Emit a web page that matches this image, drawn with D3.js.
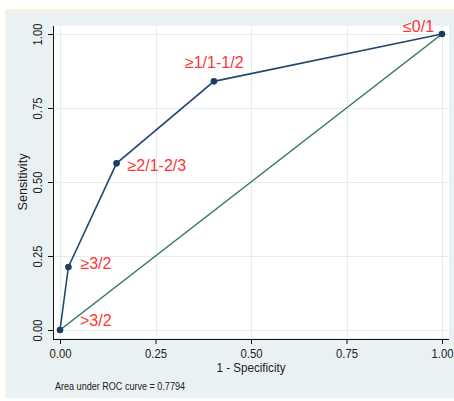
<!DOCTYPE html>
<html>
<head>
<meta charset="utf-8">
<script src="https://cdn.jsdelivr.net/npm/d3@7"></script>
<style>
  html, body { margin: 0; padding: 0; background: #ffffff; }
  svg { display: block; }
</style>
</head>
<body>
<svg id="chart" width="454" height="401"></svg>
<script>
// ROC curve points (1 - specificity, sensitivity) and their cut-point labels
const fpr = [0, 0.022, 0.148, 0.403, 1];
const tpr = [0, 0.213, 0.563, 0.840, 1];
const cutLabels = [">3/2", "\u22653/2", "\u22652/1-2/3", "\u22651/1-1/2", "\u22640/1"];
const tickValues = [0, 0.25, 0.5, 0.75, 1];
const tickLabels = ["0.00", "0.25", "0.50", "0.75", "1.00"];
const aucValue = 0.7794;

const svg = d3.select("#chart");
const W = 454, H = 401;
const font = '"Liberation Sans Narrow", "Liberation Sans", Arial, sans-serif';

// graph region
svg.append("rect").attr("x", 6).attr("y", 10).attr("width", W - 6).attr("height", 388)
  .attr("fill", "#eaf1f3");
svg.append("line").attr("x1", 6).attr("x2", 6).attr("y1", 10).attr("y2", 398)
  .attr("stroke", "#fbf3d9").attr("stroke-width", 2);
svg.append("line").attr("x1", 6).attr("x2", W).attr("y1", 10).attr("y2", 10)
  .attr("stroke", "#fbf3d9").attr("stroke-width", 2);

const x = d3.scaleLinear().domain([0, 1]).range([60, 442]);
const y = d3.scaleLinear().domain([0, 1]).range([330, 34]);

const plot = { left: 54, right: 449, top: 26, bottom: 338 };

// plot region
svg.append("rect").attr("x", plot.left).attr("y", plot.top)
  .attr("width", plot.right - plot.left).attr("height", plot.bottom - plot.top)
  .attr("fill", "#ffffff");

// grid
const grid = svg.append("g").attr("stroke", "#e3ecef").attr("stroke-width", 1);
tickValues.forEach(v => {
  grid.append("line").attr("x1", plot.left).attr("x2", plot.right)
    .attr("y1", Math.round(y(v)) + 0.5).attr("y2", Math.round(y(v)) + 0.5);
  grid.append("line").attr("y1", plot.top).attr("y2", plot.bottom)
    .attr("x1", Math.round(x(v)) + 0.5).attr("x2", Math.round(x(v)) + 0.5);
});

// axes
const xAxis = d3.axisBottom(x).tickValues(tickValues)
  .tickFormat((d, i) => tickLabels[i]).tickSize(5).tickSizeOuter(0);
const yAxis = d3.axisLeft(y).tickValues(tickValues)
  .tickFormat((d, i) => tickLabels[i]).tickSize(5).tickSizeOuter(0);

const gx = svg.append("g").attr("transform", "translate(0,339)").call(xAxis);
gx.select(".domain").remove();
gx.append("line").attr("x1", 53).attr("x2", plot.right).attr("y1", 0.5).attr("y2", 0.5)
  .attr("stroke", "#111");
gx.selectAll(".tick line").attr("stroke", "#111");
gx.selectAll(".tick text").attr("font-size", 13)
  .attr("y", 10).attr("dy", "0.71em").attr("fill", "#222");

const gy = svg.append("g").attr("transform", "translate(53,0)").call(yAxis);
gy.select(".domain").remove();
gy.append("line").attr("x1", 0.5).attr("x2", 0.5).attr("y1", plot.top).attr("y2", 339)
  .attr("stroke", "#111");
gy.selectAll(".tick line").attr("stroke", "#111");
gy.selectAll(".tick text").attr("font-size", 13)
  .attr("x", null).attr("dy", null)
  .attr("text-anchor", "middle")
  .attr("transform", "translate(-11,0) rotate(-90)")
  .attr("fill", "#222");

// condensed tick labels
svg.selectAll(".tick text").attr("font-family", font)
  .attr("textLength", 22).attr("lengthAdjust", "spacingAndGlyphs");

// axis titles
svg.append("text").attr("x", x(0.5)).attr("y", 372).attr("text-anchor", "middle")
  .attr("font-family", font).attr("font-size", 13).attr("fill", "#222")
  .attr("textLength", 69).attr("lengthAdjust", "spacingAndGlyphs")
  .text("1 - Specificity");
svg.append("text").attr("transform", `translate(27,${y(0.5)}) rotate(-90)`)
  .attr("text-anchor", "middle").attr("font-family", font).attr("font-size", 13)
  .attr("fill", "#222").attr("textLength", 57).attr("lengthAdjust", "spacingAndGlyphs")
  .text("Sensitivity");

// reference diagonal
svg.append("line").attr("x1", x(0)).attr("y1", y(0)).attr("x2", x(1)).attr("y2", y(1))
  .attr("stroke", "#357463").attr("stroke-width", 1.5);

// ROC curve
const pts = fpr.map((f, i) => [f, tpr[i]]);
svg.append("path").datum(pts)
  .attr("d", d3.line().x(d => x(d[0])).y(d => y(d[1])))
  .attr("fill", "none").attr("stroke", "#24496f").attr("stroke-width", 1.6);
svg.selectAll("circle.pt").data(pts).enter().append("circle")
  .attr("class", "pt").attr("cx", d => x(d[0])).attr("cy", d => y(d[1]))
  .attr("r", 3.3).attr("fill", "#1c3d62");

// cut-point labels, offset from their points
const labelDx = [20, 12, 11, -29, -39];
const labelDy = [-4, 2, 8, -13, -2];
svg.selectAll("text.cut").data(pts).enter().append("text")
  .attr("class", "cut")
  .attr("x", (d, i) => x(d[0]) + labelDx[i])
  .attr("y", (d, i) => y(d[1]) + labelDy[i])
  .attr("font-family", "Liberation Sans, Arial, sans-serif").attr("font-size", 16)
  .attr("fill", "#ff3333")
  .text((d, i) => cutLabels[i]);

// footnote
svg.append("text").attr("x", 55).attr("y", 390)
  .attr("font-family", font).attr("font-size", 10).attr("fill", "#222")
  .attr("textLength", 130).attr("lengthAdjust", "spacingAndGlyphs")
  .text("Area under ROC curve = " + aucValue.toFixed(4));
</script>
</body>
</html>
